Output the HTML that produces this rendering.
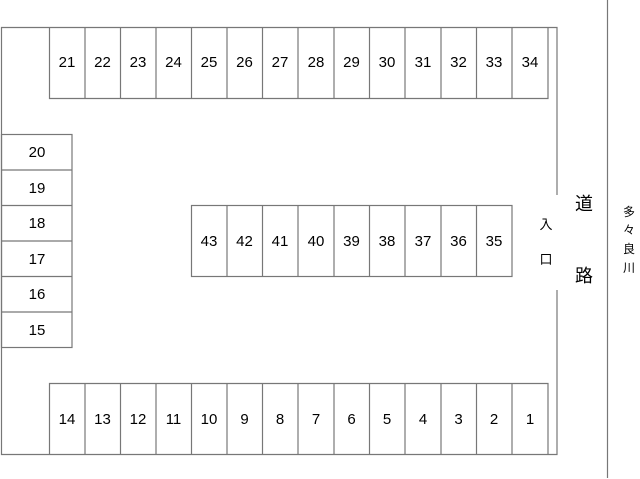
<!DOCTYPE html>
<html><head><meta charset="utf-8"><style>
html,body{margin:0;padding:0;background:#fff;}
svg{display:block}
text{font-family:"Liberation Sans","Noto Sans CJK JP",sans-serif;fill:#000}
</style></head><body>
<svg width="640" height="479" xmlns="http://www.w3.org/2000/svg">
<g stroke="#777" stroke-width="1.2" fill="none">
<!-- outer wall -->
<polyline points="557,195 557,27.5 1.5,27.5 1.5,454.5 557,454.5 557,290"/>
<line x1="607.5" y1="0" x2="607.5" y2="478"/>
<!-- top row -->
<polyline points="49.5,27.5 49.5,98.5 548,98.5 548,27.5"/>
<!-- bottom row -->
<polyline points="49.5,454.5 49.5,383.5 548,383.5 548,454.5"/>
<!-- middle -->
<rect x="191.5" y="205.5" width="320.5" height="71"/>
<!-- left -->
<rect x="1.5" y="134.5" width="70.5" height="213"/>
<g id="lines"></g>
</g>
<g id="v" stroke="#777" stroke-width="1.2">
<line x1="85" y1="27.5" x2="85" y2="98.5"/><line x1="120.5" y1="27.5" x2="120.5" y2="98.5"/><line x1="156" y1="27.5" x2="156" y2="98.5"/><line x1="191.5" y1="27.5" x2="191.5" y2="98.5"/><line x1="227" y1="27.5" x2="227" y2="98.5"/><line x1="262.5" y1="27.5" x2="262.5" y2="98.5"/><line x1="298" y1="27.5" x2="298" y2="98.5"/><line x1="334" y1="27.5" x2="334" y2="98.5"/><line x1="369.5" y1="27.5" x2="369.5" y2="98.5"/><line x1="405" y1="27.5" x2="405" y2="98.5"/><line x1="441" y1="27.5" x2="441" y2="98.5"/><line x1="476.5" y1="27.5" x2="476.5" y2="98.5"/><line x1="512" y1="27.5" x2="512" y2="98.5"/>
<line x1="85" y1="383.5" x2="85" y2="454.5"/><line x1="120.5" y1="383.5" x2="120.5" y2="454.5"/><line x1="156" y1="383.5" x2="156" y2="454.5"/><line x1="191.5" y1="383.5" x2="191.5" y2="454.5"/><line x1="227" y1="383.5" x2="227" y2="454.5"/><line x1="262.5" y1="383.5" x2="262.5" y2="454.5"/><line x1="298" y1="383.5" x2="298" y2="454.5"/><line x1="334" y1="383.5" x2="334" y2="454.5"/><line x1="369.5" y1="383.5" x2="369.5" y2="454.5"/><line x1="405" y1="383.5" x2="405" y2="454.5"/><line x1="441" y1="383.5" x2="441" y2="454.5"/><line x1="476.5" y1="383.5" x2="476.5" y2="454.5"/><line x1="512" y1="383.5" x2="512" y2="454.5"/>
<line x1="227" y1="205.5" x2="227" y2="276.5"/><line x1="262.5" y1="205.5" x2="262.5" y2="276.5"/><line x1="298" y1="205.5" x2="298" y2="276.5"/><line x1="334" y1="205.5" x2="334" y2="276.5"/><line x1="369.5" y1="205.5" x2="369.5" y2="276.5"/><line x1="405" y1="205.5" x2="405" y2="276.5"/><line x1="441" y1="205.5" x2="441" y2="276.5"/><line x1="476.5" y1="205.5" x2="476.5" y2="276.5"/>
<line x1="1.5" y1="170" x2="72" y2="170"/><line x1="1.5" y1="205.5" x2="72" y2="205.5"/><line x1="1.5" y1="241" x2="72" y2="241"/><line x1="1.5" y1="276.5" x2="72" y2="276.5"/><line x1="1.5" y1="312" x2="72" y2="312"/>
</g>
<g font-size="15" text-anchor="middle">
<text x="67" y="67">21</text><text x="102.5" y="67">22</text><text x="138" y="67">23</text><text x="173.5" y="67">24</text><text x="209" y="67">25</text><text x="244.5" y="67">26</text><text x="280" y="67">27</text><text x="316" y="67">28</text><text x="351.5" y="67">29</text><text x="387" y="67">30</text><text x="423" y="67">31</text><text x="458.5" y="67">32</text><text x="494" y="67">33</text><text x="530" y="67">34</text>
<text x="67" y="424">14</text><text x="102.5" y="424">13</text><text x="138" y="424">12</text><text x="173.5" y="424">11</text><text x="209" y="424">10</text><text x="244.5" y="424">9</text><text x="280" y="424">8</text><text x="316" y="424">7</text><text x="351.5" y="424">6</text><text x="387" y="424">5</text><text x="423" y="424">4</text><text x="458.5" y="424">3</text><text x="494" y="424">2</text><text x="530" y="424">1</text>
<text x="209" y="246">43</text><text x="244.5" y="246">42</text><text x="280" y="246">41</text><text x="316" y="246">40</text><text x="351.5" y="246">39</text><text x="387" y="246">38</text><text x="423" y="246">37</text><text x="458.5" y="246">36</text><text x="494" y="246">35</text>
<text x="37" y="157">20</text><text x="37" y="193">19</text><text x="37" y="228">18</text><text x="37" y="264">17</text><text x="37" y="299">16</text><text x="37" y="335">15</text>
<text x="584" y="210" font-size="18">道</text><text x="584" y="282" font-size="18">路</text>
<text x="546" y="229" font-size="13">入</text><text x="546" y="264" font-size="13">口</text>
<text x="629" y="216" font-size="12">多</text><text x="629" y="234" font-size="12">々</text><text x="629" y="253" font-size="12">良</text><text x="629" y="272" font-size="12">川</text>
</g>
</svg>
</body></html>
